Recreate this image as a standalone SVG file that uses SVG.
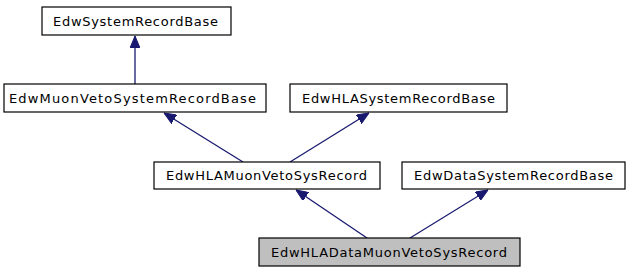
<svg xmlns="http://www.w3.org/2000/svg" width="629" height="272" viewBox="0 0 629 272">
  <style>
    .box { fill: #ffffff; stroke: #000000; stroke-width: 1.2; }
    .hl { fill: #bfbfbf; }
    .lbl { font-family: "DejaVu Sans", "Liberation Sans", sans-serif; font-size: 13px; fill: #000000; }
    .edge { stroke: #191970; stroke-width: 1.3; fill: none; }
  </style>
  <defs>
    <marker id="arrow" viewBox="0 0 12 10" refX="12" refY="5" markerWidth="12" markerHeight="10" markerUnits="userSpaceOnUse" orient="auto">
      <path d="M0,0 L12,5 L0,10 Z" fill="#191970" stroke="#191970"/>
    </marker>
  </defs>

  <rect width="629" height="272" fill="#ffffff"/>

  <g id="connectors">
    <line class="edge" x1="135" y1="84" x2="135" y2="36" marker-end="url(#arrow)"/>
    <line class="edge" x1="243" y1="162" x2="164" y2="113" marker-end="url(#arrow)"/>
    <line class="edge" x1="290" y1="162" x2="369" y2="113" marker-end="url(#arrow)"/>
    <line class="edge" x1="367" y1="238" x2="296" y2="190" marker-end="url(#arrow)"/>
    <line class="edge" x1="410" y1="238" x2="488" y2="190" marker-end="url(#arrow)"/>
  </g>

  <g id="EdwSystemRecordBase">
    <rect class="box" x="42" y="7" width="189" height="28"/>
    <text class="lbl" x="53" y="25.5" textLength="165" lengthAdjust="spacing">EdwSystemRecordBase</text>
  </g>

  <g id="EdwMuonVetoSystemRecordBase">
    <rect class="box" x="4" y="84" width="262" height="28"/>
    <text class="lbl" x="9" y="102.5" textLength="247" lengthAdjust="spacing">EdwMuonVetoSystemRecordBase</text>
  </g>

  <g id="EdwHLASystemRecordBase">
    <rect class="box" x="290" y="84" width="217" height="28"/>
    <text class="lbl" x="302" y="102.5" textLength="193" lengthAdjust="spacing">EdwHLASystemRecordBase</text>
  </g>

  <g id="EdwHLAMuonVetoSysRecord">
    <rect class="box" x="154" y="162" width="226" height="27"/>
    <text class="lbl" x="166" y="180" textLength="201" lengthAdjust="spacing">EdwHLAMuonVetoSysRecord</text>
  </g>

  <g id="EdwDataSystemRecordBase">
    <rect class="box" x="402" y="162" width="223" height="27"/>
    <text class="lbl" x="414" y="180" textLength="199" lengthAdjust="spacing">EdwDataSystemRecordBase</text>
  </g>

  <g id="EdwHLADataMuonVetoSysRecord">
    <rect class="box hl" x="259" y="238" width="261" height="28"/>
    <text class="lbl" x="271" y="256.5" textLength="236" lengthAdjust="spacing">EdwHLADataMuonVetoSysRecord</text>
  </g>
</svg>
